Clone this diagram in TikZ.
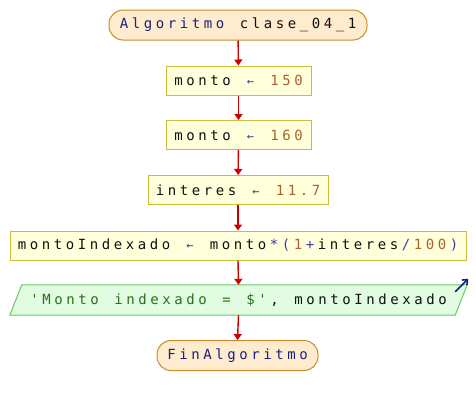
\documentclass[tikz,border=0pt]{standalone}
\usepackage{fontspec}
\setmonofont{DejaVu Sans Mono}
\usetikzlibrary{arrows.meta}
\definecolor{kw}{HTML}{1E1E80}
\definecolor{num}{HTML}{A8622E}
\definecolor{op}{HTML}{3C3CA0}
\definecolor{str}{HTML}{2A6E1E}
\definecolor{txt}{HTML}{101010}
\definecolor{boxfill}{HTML}{FFFFDC}
\definecolor{boxline}{HTML}{C8BE3C}
\definecolor{termfill}{HTML}{FFEBCD}
\definecolor{termline}{HTML}{C88C28}
\definecolor{outfill}{HTML}{E2FCE2}
\definecolor{outline}{HTML}{64C864}
\definecolor{flow}{HTML}{CC0000}
\definecolor{outarrow}{HTML}{1A1A80}
\ExplSyntaxOn
\NewDocumentCommand{\mono}{m m}
 {
  \color{#1}
  \str_map_inline:nn {#2} { \makebox[12pt]{##1} }
 }
\ExplSyntaxOff
\newcommand{\mc}[2]{{\mono{#1}{#2}}}
\newcommand{\asg}{\makebox[12pt]{\color{op}\fontsize{12}{14}\selectfont ←}}
\begin{document}
\begin{tikzpicture}[x=1pt,y=-1pt,
  every node/.style={font=\ttfamily\fontsize{14}{16}\selectfont, inner sep=0pt, text=txt},
  term/.style={draw=termline, fill=termfill, line width=1pt, rounded corners=14pt, minimum height=30pt},
  proc/.style={draw=boxline, fill=boxfill, line width=1pt, minimum height=29pt},
  flowarrow/.style={draw=flow, line width=1.4pt, -{Triangle[width=8pt,length=6pt]}}]
\useasboundingbox (0,0) rectangle (476,405);
\node[term, minimum width=258pt] (start) at (238,25) {\mc{kw}{Algoritmo}\mc{txt}{ clase_04_1}};
\node[proc, minimum width=145pt] (b1) at (238.5,80.5) {\mc{txt}{monto }\asg\mc{txt}{ }\mc{num}{150}};
\node[proc, minimum width=145pt] (b2) at (238.5,135) {\mc{txt}{monto }\asg\mc{txt}{ }\mc{num}{160}};
\node[proc, minimum width=180pt] (b3) at (238,190) {\mc{txt}{interes }\asg\mc{txt}{ }\mc{num}{11.7}};
\node[proc, minimum width=456pt] (b4) at (238,245.5) {\mc{txt}{montoIndexado }\asg\mc{txt}{ monto}\mc{op}{*(}\mc{num}{1}\mc{op}{+}\mc{txt}{interes}\mc{op}{/}\mc{num}{100}\mc{op}{)}};
\node[minimum width=445pt, minimum height=30pt] (out) at (238.5,300) {};
\fill[outfill, draw=outline, line width=1pt]
  ([xshift=6pt]out.north west) -- ([xshift=6pt]out.north east) --
  ([xshift=-6pt]out.south east) -- ([xshift=-6pt]out.south west) -- cycle;
\node (outtext) at (out.center) {\mc{str}{'Monto indexado = $'}\mc{txt}{, montoIndexado}};
\node[term, minimum width=161pt] (end) at (237.5,355.5) {\mc{kw}{FinAlgoritmo}};
\draw[outarrow, line width=1.6pt, -{Straight Barb[length=4pt,width=7pt]}]
  ([xshift=-6pt,yshift=-7pt]out.north east) coordinate (oa) -- ([xshift=7pt,yshift=6pt]out.north east) coordinate (ob);
\draw[flowarrow] (start) -- (b1);
\draw[flowarrow] (b1) -- (b2);
\draw[flowarrow] (b2) -- (b3);
\draw[flowarrow] (b3) -- (b4);
\draw[flowarrow] (b4.south) -- (out.north);
\draw[flowarrow] (out.south) -- (end.north);
\end{tikzpicture}
\end{document}
